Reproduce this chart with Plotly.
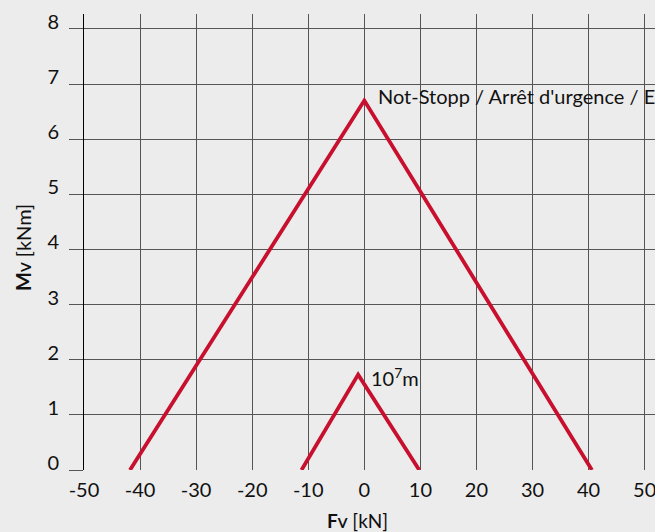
import plotly.graph_objects as go

# Data
outer_x = [-41.8, 0.0, 40.6]
outer_y = [0.0, 6.7, 0.0]
inner_x = [-11.2, -1.1, 9.8]
inner_y = [0.0, 1.73, 0.0]

x_ticks = [-50, -40, -30, -20, -10, 0, 10, 20, 30, 40, 50]
y_ticks = [0, 1, 2, 3, 4, 5, 6, 7, 8]

label_outer = "Not-Stopp / Arrêt d'urgence / E"
label_inner = "10<sup>7</sup>m"
x_title = "<b>F<span style='font-size:14px'>V</span></b> [kN]"
y_title = "<b>M<span style='font-size:14px'>V</span></b> [kNm]"

RED = "#c8102e"
BG = "#ececec"
GRID = "#555555"
FONT = "Lato"
FS = 20

fig = go.Figure()
fig.add_trace(go.Scatter(x=outer_x, y=outer_y, mode="lines",
                         line=dict(color=RED, width=3.8), showlegend=False,
                         cliponaxis=False))
fig.add_trace(go.Scatter(x=inner_x, y=inner_y, mode="lines",
                         line=dict(color=RED, width=3.8), showlegend=False,
                         cliponaxis=False))

fig.add_annotation(x=outer_x[1] + 2.1, y=outer_y[1] + 0.09, text=label_outer,
                   showarrow=False, xanchor="left", yanchor="middle",
                   font=dict(family=FONT, size=FS, color="#111"))
fig.add_annotation(x=inner_x[1] + 1.9, y=inner_y[1] - 0.05, text=label_inner,
                   showarrow=False, xanchor="left", yanchor="middle",
                   font=dict(family=FONT, size=FS, color="#111"))

# axis titles
fig.add_annotation(xref="paper", yref="paper", x=0.5, y=0, text=x_title,
                   showarrow=False, xanchor="center", yanchor="top",
                   xshift=-12, yshift=-37,
                   font=dict(family=FONT, size=19, color="#111"))
fig.add_annotation(xref="paper", yref="paper", x=0, y=0.5, text=y_title,
                   showarrow=False, xanchor="center", yanchor="middle",
                   textangle=-90, xshift=-61, yshift=-6,
                   font=dict(family=FONT, size=20, color="#111"))

fig.update_layout(
    width=655, height=532,
    paper_bgcolor=BG, plot_bgcolor=BG,
    margin=dict(l=84, r=0, t=14, b=62),
    font=dict(family=FONT, size=FS, color="#111"),
    showlegend=False,
)
fig.update_xaxes(
    range=[-50, 51.85], tickvals=x_ticks, ticktext=[str(v) for v in x_ticks],
    showgrid=True, gridcolor=GRID, gridwidth=1, zeroline=False,
    showline=False, ticks="", ticklabelstandoff=6, automargin=False,
    ticklabeloverflow="allow",
)
fig.update_yaxes(
    range=[0, 8.27], tickvals=y_ticks, ticktext=[str(v) for v in y_ticks],
    showgrid=True, gridcolor=GRID, gridwidth=1, zeroline=False,
    showline=True, linecolor="#000", linewidth=1,
    ticks="outside", ticklen=14, tickcolor=GRID, tickwidth=1,
    ticklabelstandoff=6, ticklabelshift=-7, automargin=False,
)

fig.write_html(
    "out.html",
    config={"displayModeBar": False},
    post_script="document.body.style.margin='0';document.body.style.overflow='hidden';document.body.style.background='#ececec';",
)
